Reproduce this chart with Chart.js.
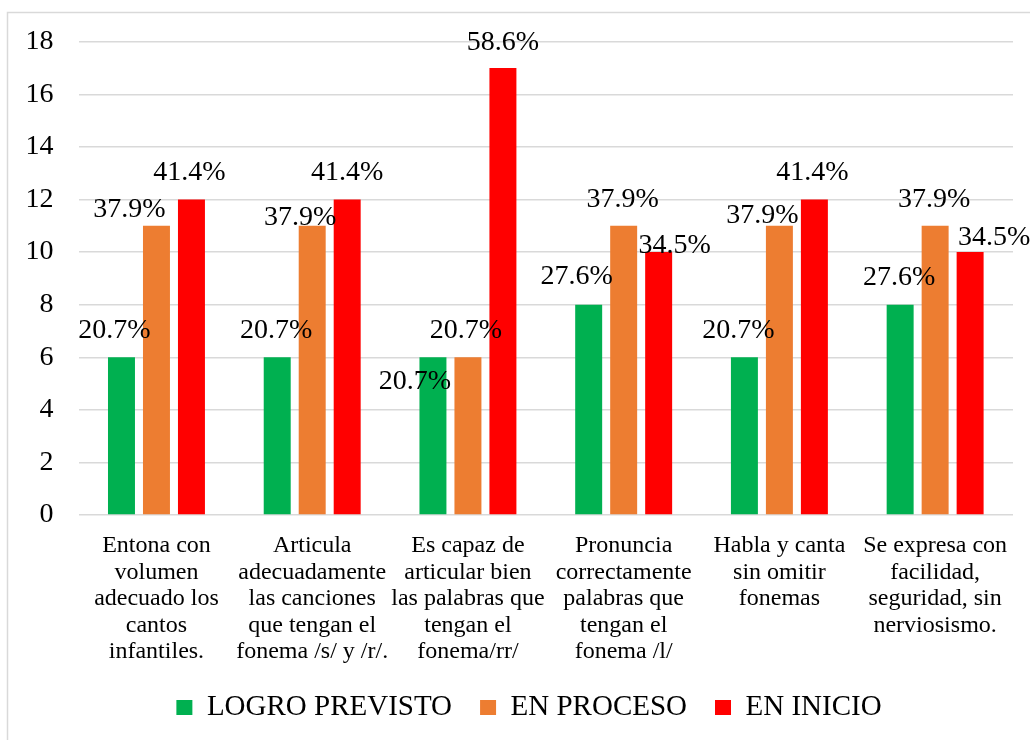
<!DOCTYPE html>
<html>
<head>
<meta charset="utf-8">
<script src="https://cdn.jsdelivr.net/npm/chart.js@4/dist/chart.umd.min.js"></script>
<style>
  html, body { margin: 0; padding: 0; background: #fff; overflow: hidden; }
  #wrap { width: 1040px; height: 740px; }
</style>
</head>
<body>
<div id="wrap"><canvas id="chart"></canvas></div>
<script>
// categories (multi-line labels as in the picture)
const categories = [
  ['Entona con', 'volumen', 'adecuado los', 'cantos', 'infantiles.'],
  ['Articula', 'adecuadamente', 'las canciones', 'que tengan el', 'fonema /s/ y /r/.'],
  ['Es capaz de', 'articular bien', 'las palabras que', 'tengan el', 'fonema/rr/'],
  ['Pronuncia', 'correctamente', 'palabras que', 'tengan el', 'fonema /l/'],
  ['Habla y canta', 'sin omitir', 'fonemas'],
  ['Se expresa con', 'facilidad,', 'seguridad, sin', 'nerviosismo.']
];

// series values
const logroPrevisto = [6, 6, 6, 8, 6, 8];
const enProceso = [11, 11, 6, 11, 11, 11];
const enInicio = [12, 12, 17, 10, 12, 10];

const seriesNames = ['LOGRO PREVISTO', 'EN PROCESO', 'EN INICIO'];
const yTicks = [0, 2, 4, 6, 8, 10, 12, 14, 16, 18];

// styling
const SERIF = '"Liberation Serif", "Times New Roman", serif';
const colors = ['#00B050', '#ED7D31', '#FF0000'];

// label nudges (dx, dy from bar top), like Excel's moved labels
const labelShift = [
  [[-7, -27], [-1, -27], [-18, 24], [-12, -28], [-6, -27], [-1, -27]],
  [[-27, -16], [-12, -8], [-2, -27], [-1, -26], [-17, -10], [-1, -26]],
  [[-2, -27], [0, -27], [0, -25], [16, -6], [-2, -27], [24, -14]]
];

const allSeries = [logroPrevisto, enProceso, enInicio];

const frame = {
  id: 'frame',
  beforeDraw(chart) {
    const ctx = chart.ctx;
    ctx.save();
    ctx.strokeStyle = '#D9D9D9';
    ctx.lineWidth = 1.5;
    ctx.strokeRect(7.5, 12.5, 1100, 800);
    ctx.restore();
  }
};

const pctLabels = {
  id: 'pctLabels',
  afterDatasetsDraw(chart) {
    const ctx = chart.ctx;
    ctx.save();
    ctx.font = '28px ' + SERIF;
    ctx.fillStyle = '#000';
    ctx.textAlign = 'center';
    ctx.textBaseline = 'middle';
    chart.data.datasets.forEach((ds, di) => {
      chart.getDatasetMeta(di).data.forEach((bar, i) => {
        const total = allSeries.reduce((s, arr) => s + arr[i], 0);
        const txt = (ds.data[i] / total * 100).toFixed(1) + '%';
        const [dx, dy] = labelShift[di][i];
        ctx.fillText(txt, bar.x + dx, bar.y + dy);
      });
    });
    ctx.restore();
  }
};

new Chart(document.getElementById('chart').getContext('2d'), {
  type: 'bar',
  data: {
    labels: categories,
    datasets: allSeries.map((arr, k) => ({
      label: seriesNames[k],
      data: arr,
      backgroundColor: colors[k],
      borderWidth: 0,
      categoryPercentage: 0.674,
      barPercentage: 0.771
    }))
  },
  options: {
    responsive: true,
    maintainAspectRatio: false,
    animation: false,
    layout: { padding: { left: 18, right: 0, top: 41, bottom: 8 } },
    scales: {
      x: {
        grid: { display: false },
        border: { display: false },
        ticks: {
          color: '#000',
          padding: 10,
          maxRotation: 0,
          autoSkip: false,
          font: { family: SERIF, size: 24, lineHeight: 1.1 }
        },
        afterFit(axis) { axis.height = 150; }
      },
      y: {
        min: 0,
        max: 18,
        afterBuildTicks(axis) { axis.ticks = yTicks.map(v => ({ value: v })); },
        grid: { color: '#D9D9D9', lineWidth: 1.5, drawTicks: false },
        border: { display: false },
        ticks: {
          color: '#000',
          padding: 25,
          font: { family: SERIF, size: 28 }
        },
        afterFit(axis) { axis.width = 60.6; }
      },
      // empty right-hand strip so the plot ends where the reference does
      yRight: {
        position: 'right',
        grid: { display: false },
        border: { display: false },
        ticks: { display: false },
        afterFit(axis) { axis.width = 27; }
      }
    },
    plugins: {
      legend: {
        position: 'bottom',
        labels: {
          color: '#000',
          boxWidth: 16,
          boxHeight: 15,
          padding: 28,
          font: { family: SERIF, size: 29 }
        }
      },
      tooltip: { enabled: false }
    }
  },
  plugins: [frame, pctLabels]
});
</script>
</body>
</html>
